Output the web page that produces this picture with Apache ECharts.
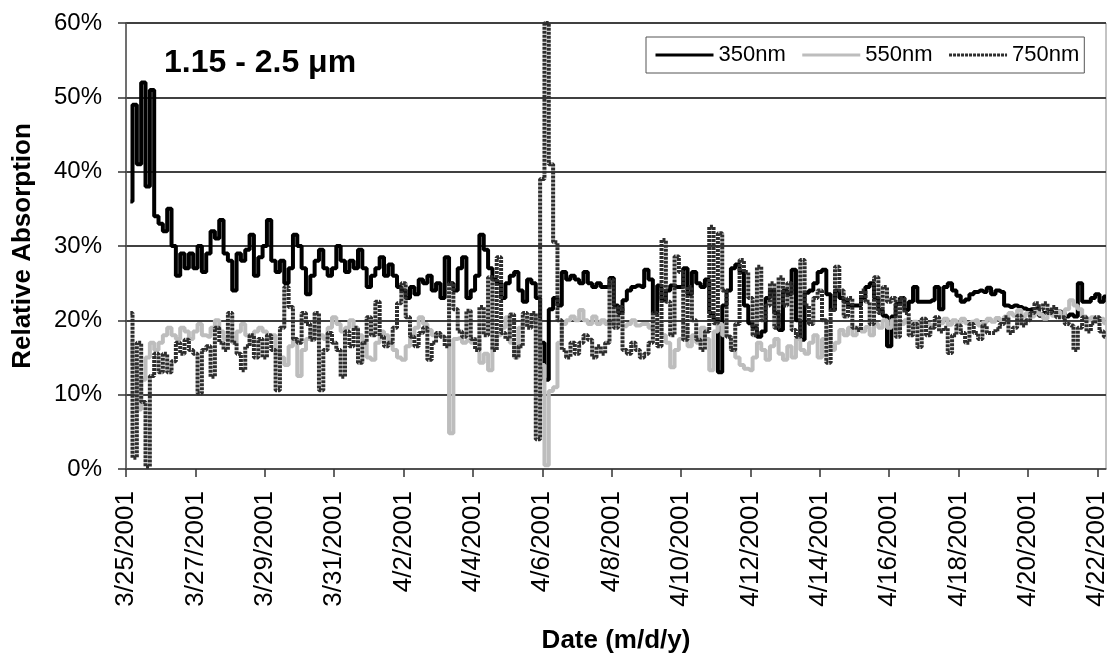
<!DOCTYPE html>
<html>
<head>
<meta charset="utf-8">
<script src="https://cdn.jsdelivr.net/npm/echarts@6/dist/echarts.min.js"></script>
<style>
  html, body { margin: 0; padding: 0; background: #fff; }
  #chart { width: 1108px; height: 655px; }
</style>
</head>
<body>
<div id="chart"></div>
<script>
// Date tick labels, one every two days starting 3/25/2001
const tickLabels = ['3/25/2001', '3/27/2001', '3/29/2001', '3/31/2001', '4/2/2001', '4/4/2001', '4/6/2001',
  '4/8/2001', '4/10/2001', '4/12/2001', '4/14/2001', '4/16/2001', '4/18/2001', '4/20/2001', '4/22/2001'];

// Samples every 3 hours, first one at 03:00 on 3/25/2001 (values in %)
const firstHour = 3;
const stepHours = 3;
const seriesNames = ['350nm', '550nm', '750nm'];

const nm350 = [
  36, 49, 41, 52, 38, 51, 34,
  33, 32, 35, 30, 26, 29, 27, 29,
  27, 30, 26.5, 29, 32, 31, 33.5, 29,
  28, 24, 29, 28, 29.5, 31.5, 26, 28.5,
  30, 33.5, 28, 26.5, 28, 25, 27, 31.5,
  30, 27, 23.5, 26, 28, 29.5, 27, 26,
  27, 30, 28, 26.5, 28, 27, 29.5, 27,
  24.5, 26, 27, 28.5, 26, 27.5, 26, 24.5,
  24, 23, 24.5, 23.5, 25.5, 25, 26, 24,
  25, 23, 28.5, 25, 24, 27, 28.5, 23,
  24, 26, 31.5, 29.5, 27, 25.5, 25, 23,
  25, 26, 26.5, 24, 22.5, 25.5, 25, 23,
  17, 12, 21.5, 23, 22, 26.5, 25.5, 26,
  25.5, 25, 26.5, 25, 24.5, 25, 24.5, 24.5,
  25.7, 22, 21, 22.7, 24, 24.5, 24.7, 24.5,
  26.8, 25.5, 21, 24.7, 22.7, 24, 24.7, 24.5,
  24.5, 27, 23.5, 26.5, 25, 24.5, 25.5, 21,
  20, 13, 22, 24, 27, 27.5, 26.5, 22,
  19.6, 19, 17.8, 18.5, 23, 24, 21, 18.7,
  24, 23.5, 26.8, 20, 17.4, 23.7, 24, 25,
  26.5, 26.8, 23.5, 21.4, 24, 23, 22.5, 22,
  22, 22, 23, 24.5, 25, 23, 21.4, 20.6,
  16.5, 20.5, 22.2, 23, 21.4, 22.5, 24.5, 22.5,
  22.5, 22.5, 22.7, 24.5, 21.5, 24.5, 25, 24,
  23.3, 22.5, 22.8, 23.5, 23.8, 24, 23.8, 24.4,
  23.5, 24, 23.8, 22, 21.8, 22, 21.8, 21.6,
  21.4, 21.5, 21.6, 20.6, 21, 21.2, 21, 21.2,
  21, 20.5, 20.8, 20.5, 25, 22.5, 22.5, 23,
  23.5, 22.5, 23.2
];

const nm550 = [
  17, 14, 8, 12, 15, 17, 16,
  17, 18, 19, 18, 17.5, 19, 18.5, 17.5,
  18.5, 19.5, 18, 17.8, 19, 20, 18.5, 17.5,
  18, 17, 18.5, 19.5, 18, 17, 18.5, 19,
  18.5, 17.5, 18, 16, 15, 14, 16.5, 17.5,
  12.5, 16, 17.5, 18.5, 19, 18, 17.5, 19,
  20.4, 19.5, 18.5, 19, 20, 19, 18, 17,
  15, 14.7, 17, 18.5, 18, 17, 16, 15,
  14.7, 16.5, 18, 19, 20.4, 19.5, 18.7, 18,
  18, 17.8, 17.5, 4.8, 17.5, 17.6, 17, 17.3,
  17, 17.5, 14.3, 15.5, 13.3, 16.5, 18, 19,
  20.4, 17, 15, 19, 20, 19.5, 20.5, 20,
  14, 0.5, 10.5, 11, 17, 19.5, 20, 20.5,
  20, 21.4, 20, 19.5, 20.5, 19.5, 20, 19.5,
  19.5, 20, 19.8, 19.2, 19.5, 20, 19.3, 19.5,
  19.5, 19, 18.5, 19.8, 18, 17, 13.7, 16,
  17.5, 19, 16.5, 18, 17, 19, 17.5, 13.3,
  18.5, 19.5, 18, 17.8, 16, 15, 14, 13.5,
  13.3, 15, 17, 16, 14.7, 16.5, 17.5, 15.5,
  14.7, 16.5, 15, 17.5, 16, 15.5, 17, 18,
  15, 17.5, 18.5, 16, 17, 18.7, 18, 19,
  18, 19, 18.5, 19.1, 18, 19.5, 19, 20,
  19, 20, 18.8, 19.5, 20, 19.3, 19.8, 19.5,
  20, 19.5, 19.2, 20, 19.6, 20.2, 19.4, 20,
  19.5, 20.2, 19.6, 19.8, 20, 19.3, 19.7, 20.2,
  19.8, 20.3, 20, 20.5, 21, 20.6, 21.4, 20.5,
  21, 20.5, 21.2, 20.8, 20.2, 21, 20.6, 21.2,
  20.5, 21.5, 22.7, 22, 21.5, 20.5, 20, 20.4,
  19.8, 20.2, 19.6
];

const nm750 = [
  21, 1.5, 17, 9, 0.3, 12.5, 15.5,
  13, 15.5, 13, 14.5, 17, 15.5, 17.4, 16,
  15.5, 10.2, 16, 16.5, 12.4, 19, 17, 16,
  21, 17, 15.5, 13.3, 16.5, 18, 15, 17.5,
  15, 18, 16, 10.6, 19, 24.5, 21.8, 17.5,
  17, 21, 19.5, 17.4, 21, 10.6, 16, 18.3,
  17, 16, 12.4, 18.5, 16.5, 19, 14.3, 17,
  20.4, 18, 22.5, 17.8, 16.5, 17, 19, 22.3,
  25, 20.4, 17.8, 16.5, 18.3, 19, 14.7, 17,
  18.3, 17.8, 16.5, 25, 21.5, 18.5, 17.8, 21.3,
  17.5, 16, 21.8, 18, 25.8, 16, 28.5, 18.3,
  17.5, 20.8, 15, 16.5, 21, 19, 21, 4,
  39, 60, 41, 30.5, 20, 16, 15, 17,
  15.5, 17, 18, 17.4, 15, 16.5, 15.5, 17,
  25.4, 19, 21.8, 16, 15.5, 17, 16, 15,
  15.5, 17, 21, 16.5, 30.8, 22.5, 18, 28.6,
  26.5, 17.4, 24.5, 20, 17.4, 16, 18.5, 32.6,
  19.6, 31.7, 24, 17.8, 16, 19.5, 28.1, 26.5,
  23, 18, 27.2, 20, 22, 25, 19, 25.8,
  22, 25, 18.7, 17.8, 28.1, 22, 19.5, 23,
  24, 20, 14.3, 21.4, 27.2, 24, 20.5, 23,
  19, 18.7, 24, 22.5, 19.5, 25.8, 21, 24.5,
  22.5, 23, 17.8, 23, 21, 18, 19.5, 16.4,
  20.2, 18, 19, 20.4, 18.5, 19, 15.6, 18,
  19.3, 18.3, 17, 19.5, 18.3, 17.5, 19.3, 18.3,
  18.3, 18.8, 19.5, 20.4, 18.3, 19, 20.6, 19.3,
  20, 21, 22.3, 21.5, 22.3, 21, 21.8, 20.4,
  20.4, 19.5, 19.3, 16, 19, 20.4, 18.5, 19.6,
  20.4, 18.5, 17.8
];

const FONT = '"Liberation Sans", Arial, Helvetica, sans-serif';

// x is measured in days since 3/25/2001 00:00
function toPoints(values) {
  return values.map((v, i) => [(firstHour + i * stepHours) / 24, v]);
}
const tickDays = tickLabels.map((_, i) => i * 2);

const chart = echarts.init(document.getElementById('chart'), null, { renderer: 'canvas' });

chart.setOption({
  animation: false,
  backgroundColor: '#fff',
  title: {
    text: '1.15 - 2.5 \u03bcm',
    left: 164,
    top: 47,
    padding: 0,
    textStyle: { fontFamily: FONT, fontSize: 32, fontWeight: 'bold', color: '#000' }
  },
  legend: {
    data: seriesNames,
    left: 646,
    top: 37,
    orient: 'horizontal',
    itemWidth: 58,
    itemHeight: 14,
    itemGap: 15,
    padding: [7, 5, 7, 8],
    borderColor: '#555',
    borderWidth: 1,
    backgroundColor: '#fff',
    itemStyle: { opacity: 0 },
    lineStyle: { width: 3 },
    textStyle: { fontFamily: FONT, fontSize: 22, color: '#000' }
  },
  grid: {
    left: 126,
    right: 2,
    top: 23,
    bottom: 186,
    outerBoundsMode: 'none',
    show: true,
    borderColor: '#888',
    borderWidth: 1,
    backgroundColor: 'transparent'
  },
  xAxis: {
    type: 'value',
    min: 0,
    max: 28.25,
    interval: 2,
    name: 'Date (m/d/y)',
    nameLocation: 'middle',
    nameGap: 159,
    nameTextStyle: { fontFamily: FONT, fontSize: 26, fontWeight: 'bold', color: '#000' },
    axisLine: { show: true, lineStyle: { color: '#555', width: 1.5 } },
    axisTick: { show: true, length: 8, customValues: tickDays, lineStyle: { color: '#333', width: 1.5 } },
    axisLabel: {
      customValues: tickDays,
      rotate: 90,
      margin: 22,
      fontFamily: FONT,
      fontSize: 26,
      color: '#000',
      formatter: (v) => {
        const k = Math.round(v / 2);
        return Math.abs(v - k * 2) < 1e-6 && tickLabels[k] ? tickLabels[k] : '';
      }
    },
    splitLine: { show: false }
  },
  yAxis: {
    type: 'value',
    min: 0,
    max: 60,
    interval: 10,
    name: 'Relative Absorption',
    nameLocation: 'middle',
    nameGap: 90,
    nameTextStyle: { fontFamily: FONT, fontSize: 26, fontWeight: 'bold', color: '#000' },
    axisLine: { show: true, lineStyle: { color: '#555', width: 1.5 } },
    axisTick: { show: true, length: 8, lineStyle: { color: '#333', width: 1.5 } },
    axisLabel: { margin: 24, fontFamily: FONT, fontSize: 24, color: '#000', formatter: '{value}%' },
    splitLine: { show: true, lineStyle: { color: '#404040', width: 1.8 } }
  },
  series: [
    {
      name: seriesNames[0], type: 'line', data: toPoints(nm350), symbol: 'none', step: 'middle',
      lineStyle: { color: '#000', width: 4 }, itemStyle: { color: '#000' }
    },
    {
      name: seriesNames[1], type: 'line', data: toPoints(nm550), symbol: 'none', step: 'middle',
      lineStyle: { color: '#bdbdbd', width: 4 }, itemStyle: { color: '#bdbdbd' }
    },
    {
      name: seriesNames[2], type: 'line', data: toPoints(nm750), symbol: 'none', step: 'middle',
      lineStyle: { color: '#2e2e2e', width: 4, type: [3, 1] }, itemStyle: { color: '#2e2e2e' }
    }
  ]
});
</script>
</body>
</html>
